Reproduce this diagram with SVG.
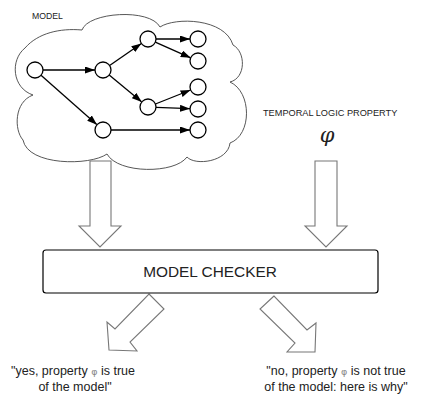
<svg xmlns="http://www.w3.org/2000/svg" width="437" height="403" viewBox="0 0 437 403">
<style>
.lbl{font-family:"Liberation Sans",Arial,sans-serif;fill:#222}
.node{fill:#fff;stroke:#000;stroke-width:1.3}
.edge{stroke:#000;stroke-width:1.3;fill:none}
.block{fill:#fff;stroke:#777;stroke-width:1.1;stroke-linejoin:miter}
.phi{fill:#888;font-family:"DejaVu Sans",sans-serif}
</style>
<defs>
<marker id="ah" markerUnits="userSpaceOnUse" markerWidth="10" markerHeight="7" refX="10" refY="3.5" orient="auto">
<path d="M0,0 L10,3.5 L0,7 z" fill="#000"/>
</marker>
</defs>
<rect width="437" height="403" fill="#fff"/>
<g id="model">
<path d="M33,95 C12,88 10,60 25,48 C38,33 60,28 82,30 C88,12 150,8 160,27 C175,17 225,18 233,45 C246,52 246,78 230,82 C252,92 252,135 230,143 C228,162 195,166 187,157 C175,174 118,174 107,154 C90,166 28,166 23,140 C14,130 14,102 33,95 Z" fill="#fff" stroke="#444" stroke-width="0.9"/>
<text class="lbl" x="32" y="18.5" font-size="8.7">MODEL</text>
</g>
<g id="connectors">
<line class="edge" x1="43" y1="70" x2="95" y2="70" marker-end="url(#ah)"/>
<line class="edge" x1="41" y1="75.3" x2="97" y2="124.7" marker-end="url(#ah)"/>
<line class="edge" x1="109.6" y1="65.5" x2="141.4" y2="43.5" marker-end="url(#ah)"/>
<line class="edge" x1="109.2" y1="75.1" x2="141.8" y2="101.9" marker-end="url(#ah)"/>
<line class="edge" x1="156" y1="39" x2="190" y2="39" marker-end="url(#ah)"/>
<line class="edge" x1="155.3" y1="42.2" x2="190.7" y2="57.8" marker-end="url(#ah)"/>
<line class="edge" x1="155.4" y1="104" x2="190.6" y2="90" marker-end="url(#ah)"/>
<line class="edge" x1="156" y1="107.3" x2="190" y2="108.7" marker-end="url(#ah)"/>
<line class="edge" x1="111" y1="130" x2="190" y2="130" marker-end="url(#ah)"/>
</g>
<g id="n-a"><circle class="node" cx="35" cy="70" r="8"/></g>
<g id="n-b"><circle class="node" cx="103" cy="70" r="8"/></g>
<g id="n-c"><circle class="node" cx="148" cy="39" r="8"/></g>
<g id="n-d"><circle class="node" cx="148" cy="107" r="8"/></g>
<g id="n-e"><circle class="node" cx="103" cy="130" r="8"/></g>
<g id="n-r1"><circle class="node" cx="198" cy="39" r="8"/></g>
<g id="n-r2"><circle class="node" cx="198" cy="61" r="8"/></g>
<g id="n-r3"><circle class="node" cx="198" cy="87" r="8"/></g>
<g id="n-r4"><circle class="node" cx="198" cy="109" r="8"/></g>
<g id="n-r5"><circle class="node" cx="198" cy="130" r="8"/></g>
<g id="property">
<text class="lbl" x="263" y="116" font-size="9.2">TEMPORAL LOGIC PROPERTY</text>
<text x="327" y="142" font-size="21" font-style="italic" font-family="'DejaVu Serif',serif" text-anchor="middle" fill="#222">φ</text>
</g>
<g id="block-arrows">
<polygon class="block" points="90,161 111,161 111,226 121,226 100,247 79,226 90,226"/>
<polygon class="block" points="315,161 337,161 337,226 347,226 326,247 305,226 315,226"/>
<polygon class="block" points="149,294 164,309 130,342 137,351 109,350 107,322 115,329"/>
<polygon class="block" points="274,296 260,309 295,343 287,352 315,352 316,323 307,330"/>
</g>
<g id="checker">
<rect x="43" y="250" width="335" height="43" rx="3" fill="#fff" stroke="#000" stroke-width="1.2"/>
<text class="lbl" x="210" y="277" font-size="15.4" text-anchor="middle">MODEL CHECKER</text>
</g>
<g id="yes">
<text class="lbl" x="73" y="375" font-size="12.5" text-anchor="middle">"yes, property <tspan class="phi" font-size="9.5">φ</tspan> is true</text>
<text class="lbl" x="75" y="391" font-size="12.5" text-anchor="middle">of the model"</text>
</g>
<g id="no">
<text class="lbl" x="336" y="375" font-size="12.5" text-anchor="middle">"no, property <tspan class="phi" font-size="9.5">φ</tspan> is not true</text>
<text class="lbl" x="336" y="391" font-size="12.5" text-anchor="middle">of the model: here is why"</text>
</g>
</svg>
